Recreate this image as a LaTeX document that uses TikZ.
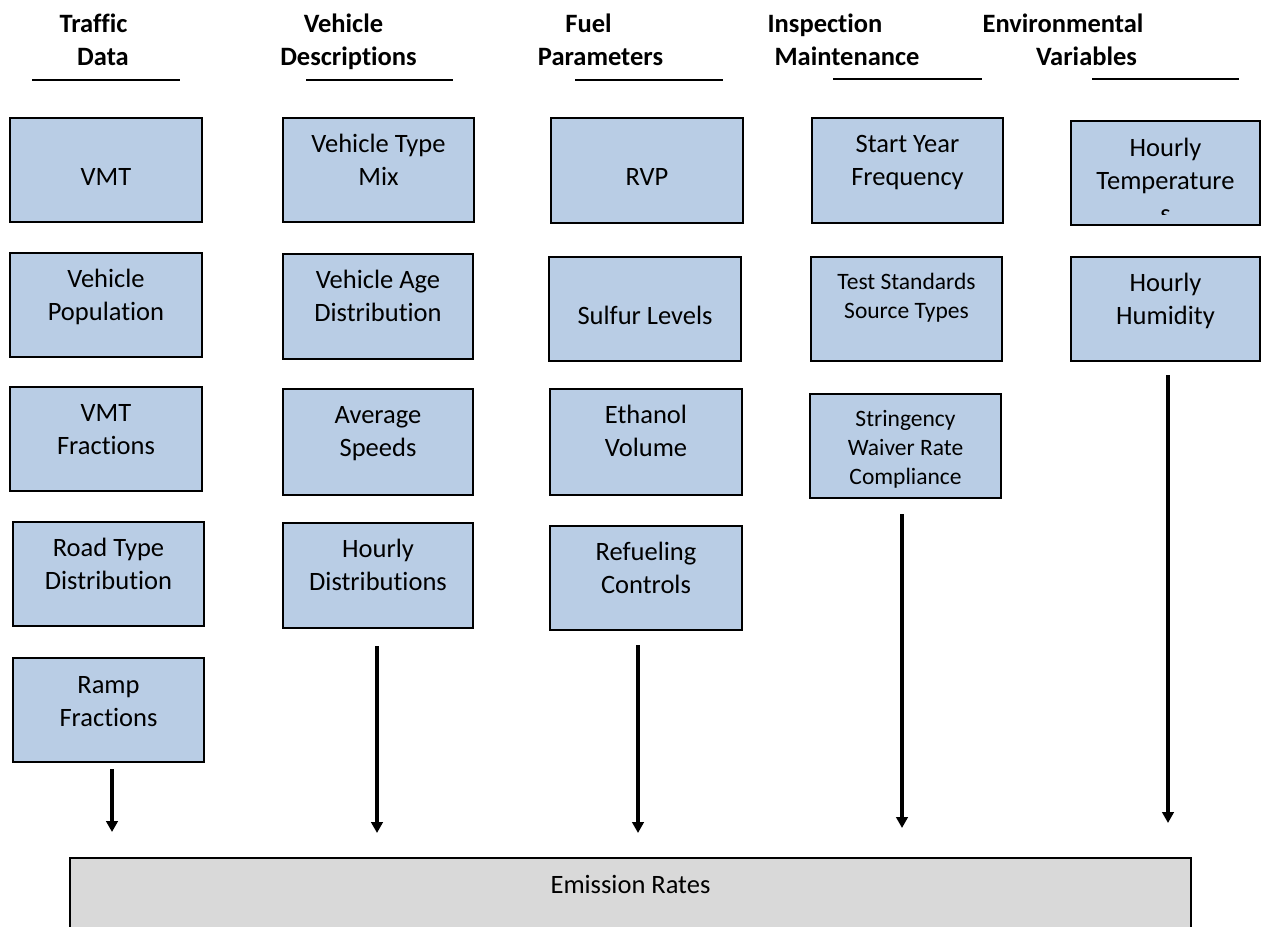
\documentclass[tikz,border=0pt]{standalone}
\usepackage{fontspec}
\setmainfont{Carlito}[Ligatures=NoCommon]
\usetikzlibrary{arrows.meta,fit}
\definecolor{boxblue}{HTML}{B9CDE5}
\definecolor{boxgray}{HTML}{D9D9D9}
\tikzset{
  box/.style={draw=black, line width=2.6pt, fill=boxblue, inner sep=0pt},
  graybox/.style={draw=black, line width=2.6pt, fill=boxgray, inner sep=0pt},
  txt/.style={font=\fontsize{26.5}{33}\selectfont, align=center, anchor=north, inner sep=0pt},
  txts/.style={font=\fontsize{23.5}{29}\selectfont, align=center, anchor=north, inner sep=0pt},
  hdr/.style={font=\bfseries\fontsize{26.5}{33}\selectfont, align=center, anchor=north, inner sep=0pt},
  uline/.style={line width=2.4pt},
  arr/.style={line width=4.5pt, -{Triangle[width=11.5pt,length=11pt]}}
}
% name, x1, y1, x2, y2, text offset, text
\newcommand\mkbox[7]{%
  \node[box, fit={(#2,#3) (#4,#5)}] (#1) {};
  \node[txt] (#1t) at ([yshift=-#6pt]#1.north) {\strut #7};
}
\newcommand\mkboxs[7]{%
  \node[box, fit={(#2,#3) (#4,#5)}] (#1) {};
  \node[txts] (#1t) at ([yshift=-#6pt]#1.north) {\strut #7};
}
\begin{document}
\begin{tikzpicture}[x=1pt, y=-1pt]
\path[use as bounding box] (0,0) rectangle (1262,927);
\clip (0,0) rectangle (1262,927);

% headers
\node[hdr] (h1) at (93.5,8.9) {\strut Traffic\\\hspace*{19pt}Data};
\node[hdr] (h2) at (343.5,8.9) {\strut Vehicle\\\hspace*{10pt}Descriptions};
\node[hdr] (h3) at (588.5,8.9) {\strut Fuel\\\hspace*{24pt}Parameters};
\node[hdr] (h4) at (825,8.9) {\strut Inspection\\\hspace*{44pt}Maintenance};
\node[hdr] (h5) at (1063,8.9) {\strut Environmental\\\hspace*{47pt}Variables};

\draw[uline] (32,80) -- (180,80);
\draw[uline] (306,80) -- (453,80);
\draw[uline] (575,80) -- (723,80);
\draw[uline] (833,79) -- (982,79);
\draw[uline] (1092,79) -- (1239,79);

% column 1
\mkbox{vmt}{10}{118}{202}{222}{45.9}{VMT}
\mkbox{vpop}{10}{253}{202}{357}{12.9}{Vehicle\\Population}
\mkbox{vfrac}{10}{387}{202}{491}{12.9}{VMT\\Fractions}
\mkbox{road}{13}{522}{204}{626}{12.9}{Road Type\\Distribution}
\mkbox{ramp}{13}{658}{204}{762}{13.4}{Ramp\\Fractions}

% column 2
\mkbox{mix}{283}{118}{474}{222}{12.9}{Vehicle Type\\Mix}
\mkbox{age}{283}{254}{473}{359}{12.9}{Vehicle Age\\Distribution}
\mkbox{speed}{283}{389}{473}{495}{12.9}{Average\\Speeds}
\mkbox{hdist}{283}{523}{473}{628}{12.9}{Hourly\\Distributions}

% column 3
\mkbox{rvp}{551}{118}{743}{223}{45.9}{RVP}
\mkbox{sulfur}{549}{257}{741}{361}{45.9}{Sulfur Levels}
\mkbox{ethanol}{550}{389}{742}{495}{12.9}{Ethanol\\Volume}
\mkbox{refuel}{550}{526}{742}{630}{12.9}{Refueling\\Controls}

% column 4
\mkbox{start}{812}{118}{1003}{223}{12.9}{Start Year\\Frequency}
\mkboxs{test}{811}{257}{1002}{361}{13.7}{Test Standards\\Source Types}
\mkboxs{string}{810}{394}{1001}{498}{13.7}{Stringency\\Waiver Rate\\Compliance}

% column 5
\node[box, fit={(1071,121) (1260,225)}] (htemp) {};
\begin{scope}
  \clip (1071,121) rectangle (1260,214);
  \node[txt] (htempt) at ([yshift=-13.9pt]htemp.north) {\strut Hourly\\Temperature\\s};
\end{scope}
\mkbox{hhum}{1071}{257}{1260}{361}{12.9}{Hourly\\Humidity}

% result box
\node[graybox, fit={(70,858) (1191,960)}] (emis) {};
\node[txt] (emist) at ([yshift=-13.9pt]emis.north) {\strut Emission Rates};

% arrows
\coordinate (a1s) at (112,769); \coordinate (a1e) at (112,832);
\coordinate (a2s) at (377,646); \coordinate (a2e) at (377,833);
\coordinate (a3s) at (638,645); \coordinate (a3e) at (638,833);
\coordinate (a4s) at (902,514); \coordinate (a4e) at (902,828);
\coordinate (a5s) at (1168,375); \coordinate (a5e) at (1168,823);
\draw[arr] (a1s) -- (a1e);
\draw[arr] (a2s) -- (a2e);
\draw[arr] (a3s) -- (a3e);
\draw[arr] (a4s) -- (a4e);
\draw[arr] (a5s) -- (a5e);
\end{tikzpicture}
\end{document}
